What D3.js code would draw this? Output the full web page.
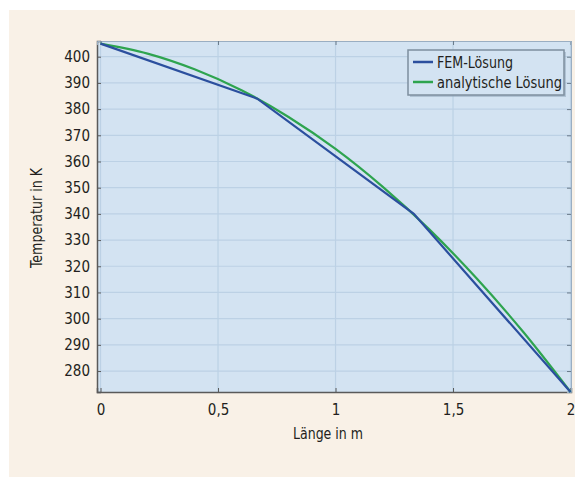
<!DOCTYPE html>
<html>
<head>
<meta charset="utf-8">
<script src="https://cdn.jsdelivr.net/npm/d3@7"></script>
<style>
  body { margin: 0; background: #fff; }
  text { font-family: "DejaVu Sans", sans-serif; font-stretch: condensed; fill: #231f20; }
</style>
</head>
<body>
<svg id="chart" width="575" height="477"></svg>
<script>
// node values of the FEM solution (3 linear elements)
var femX = [0, 0.667, 1.333, 2];
var femT = [405, 384, 340, 272];

// analytic curve
var anaX = [0, 0.2, 0.4, 0.6, 0.8, 1.0, 1.2, 1.4, 1.6, 1.8, 2.0];
var anaT = [405, 401.2, 395.2, 387.2, 377, 364.8, 350.4, 334, 315.4, 294.8, 272];

var xTicks = [0, 0.5, 1, 1.5, 2];
var xTickLabels = ["0", "0,5", "1", "1,5", "2"];
var yTicks = [280, 290, 300, 310, 320, 330, 340, 350, 360, 370, 380, 390, 400];
var seriesNames = ["FEM-Lösung", "analytische Lösung"];

var blue = "#2b4f9e", green = "#2ea44f";

var svg = d3.select("#chart");

// beige panel
svg.append("rect")
  .attr("x", 9).attr("y", 10)
  .attr("width", 566).attr("height", 467)
  .attr("fill", "#f9f1e7");

var pl = 97, pr = 571, pt = 41, pb = 392;

var x = d3.scaleLinear().domain([-0.015, 2.002]).range([pl, pr]);
var y = d3.scaleLinear().domain([272, 406]).range([pb, pt]);

svg.append("rect")
  .attr("x", pl).attr("y", pt)
  .attr("width", pr - pl).attr("height", pb - pt)
  .attr("fill", "#d3e3f2");

// grid
svg.append("g").selectAll("line").data(yTicks).join("line")
  .attr("x1", pl).attr("x2", pr)
  .attr("y1", d => y(d)).attr("y2", d => y(d))
  .attr("stroke", "#bcd1e5").attr("stroke-width", 1.2);
svg.append("g").selectAll("line").data(xTicks).join("line")
  .attr("y1", pt).attr("y2", pb)
  .attr("x1", d => x(d)).attr("x2", d => x(d))
  .attr("stroke", "#bcd1e5").attr("stroke-width", 1.2);

// axes (ticks inward)
var xAxis = d3.axisBottom(x).tickValues(xTicks).tickSize(-4)
  .tickFormat((d, i) => xTickLabels[i]).tickPadding(12);
var yAxis = d3.axisLeft(y).tickValues(yTicks).tickSize(-4).tickPadding(7);

var gx = svg.append("g").attr("transform", "translate(0," + pb + ")").call(xAxis);
var gy = svg.append("g").attr("transform", "translate(" + pl + ",0)").call(yAxis);
[gx, gy].forEach(g => {
  g.select(".domain").attr("stroke", "#5a5a5a").attr("stroke-width", 1.5);
  g.selectAll(".tick line").attr("stroke", "#5a5a5a");
  g.selectAll(".tick text").attr("font-size", 15)
    .attr("font-family", "'DejaVu Sans', sans-serif")
    .attr("font-stretch", "condensed")
    .attr("fill", "#231f20");
});

// top and right ticks of the box
svg.append("g").attr("transform", "translate(0," + pt + ")")
  .call(d3.axisTop(x).tickValues(xTicks).tickSize(-4).tickFormat(""))
  .call(g => { g.select(".domain").attr("stroke", "#9aaec2"); g.selectAll("line").attr("stroke", "#6a7a8a"); });
svg.append("g").attr("transform", "translate(" + pr + ",0)")
  .call(d3.axisRight(y).tickValues(yTicks).tickSize(-4).tickFormat(""))
  .call(g => { g.select(".domain").attr("stroke", "#9aaec2"); g.selectAll("line").attr("stroke", "#6a7a8a"); });

// curves
var line = d3.line().x(d => x(d[0])).y(d => y(d[1]));
var anaLine = d3.line().x(d => x(d[0])).y(d => y(d[1])).curve(d3.curveMonotoneX);

svg.append("path")
  .datum(anaX.map((v, i) => [v, anaT[i]]))
  .attr("d", anaLine)
  .attr("fill", "none").attr("stroke", green).attr("stroke-width", 2.2);
svg.append("path")
  .datum(femX.map((v, i) => [v, femT[i]]))
  .attr("d", line)
  .attr("fill", "none").attr("stroke", blue).attr("stroke-width", 2.2);

// axis titles
svg.append("text")
  .attr("x", 328).attr("y", 439)
  .attr("text-anchor", "middle").attr("font-size", 15)
  .attr("textLength", 70).attr("lengthAdjust", "spacingAndGlyphs")
  .text("Länge in m");
svg.append("text")
  .attr("transform", "translate(42,218) rotate(-90)")
  .attr("text-anchor", "middle").attr("font-size", 15)
  .attr("textLength", 100).attr("lengthAdjust", "spacingAndGlyphs")
  .text("Temperatur in K");

// legend
var lg = svg.append("g");
lg.append("rect")
  .attr("x", 410).attr("y", 52).attr("width", 156).attr("height", 45)
  .attr("fill", "#8ea3b5").attr("opacity", 0.5);
lg.append("rect")
  .attr("x", 408).attr("y", 50).attr("width", 156).attr("height", 45)
  .attr("fill", "#d3e3f2").attr("stroke", "#7e8f9e").attr("stroke-width", 1.5);
var items = lg.selectAll("g.item").data(seriesNames).join("g")
  .attr("transform", (d, i) => "translate(413," + (62 + i * 20) + ")");
items.append("line")
  .attr("x1", 0).attr("x2", 20)
  .attr("stroke", (d, i) => i === 0 ? blue : green).attr("stroke-width", 2.5);
items.append("text")
  .attr("x", 24).attr("y", 5.5).attr("font-size", 16)
  .attr("textLength", (d, i) => i === 0 ? 76 : 125).attr("lengthAdjust", "spacingAndGlyphs")
  .text(d => d);
</script>
</body>
</html>
